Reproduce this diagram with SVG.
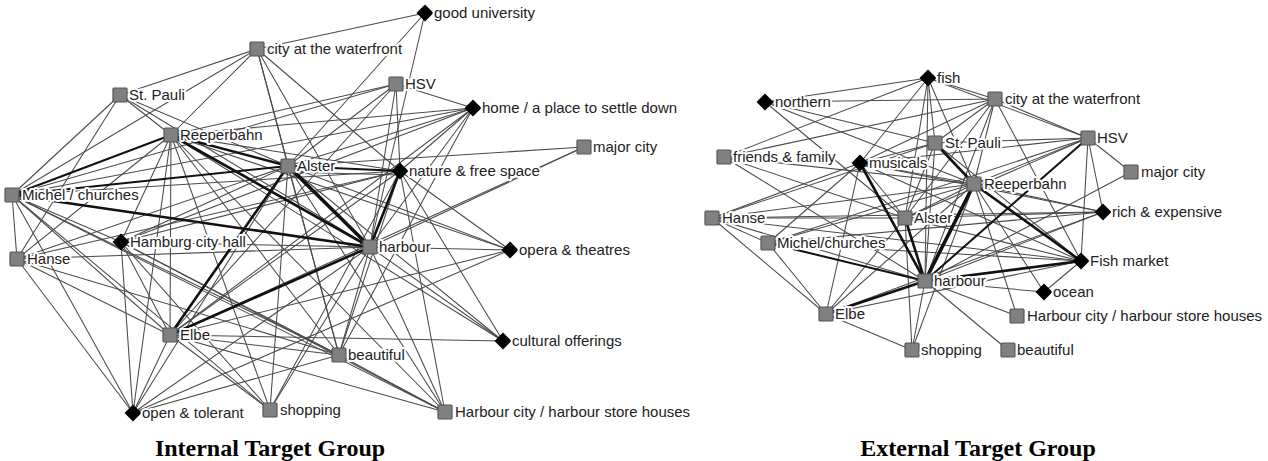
<svg xmlns="http://www.w3.org/2000/svg" xmlns:xlink="http://www.w3.org/1999/xlink" width="1268" height="461" viewBox="0 0 1268 461">
<style>
.e line{stroke:#4a4a4a;stroke-width:1.05;fill:none}
line.t1{stroke:#111;stroke-width:2}
line.t2{stroke:#111;stroke-width:2.6}
line.t3{stroke:#111;stroke-width:3.6}
.sq{fill:#808080;stroke:#555;stroke-width:1.2}
.dm{fill:#000}
text.lb{font-family:"Liberation Sans",Arial,sans-serif;font-size:15px;fill:#222;stroke:#fff;stroke-width:4;paint-order:stroke;stroke-linejoin:round}
text.ti{font-family:"Liberation Serif","Times New Roman",serif;font-size:24px;font-weight:bold;fill:#000;text-anchor:middle}
</style>
<defs>
<rect id="s" x="-7" y="-7" width="14" height="14" rx="1"/>
<path id="d" d="M0,-8.5 L8.5,0 L0,8.5 L-8.5,0Z"/>
</defs>
<rect width="1268" height="461" fill="#fff"/>
<g id="connectors-internal" class="e">
<line x1="425" y1="13" x2="257" y2="49"/><line x1="425" y1="13" x2="288" y2="166"/><line x1="425" y1="13" x2="370" y2="247"/>
<line x1="257" y1="49" x2="120" y2="95"/><line x1="257" y1="49" x2="171" y2="135"/><line x1="257" y1="49" x2="288" y2="166"/><line x1="257" y1="49" x2="12" y2="195"/><line x1="257" y1="49" x2="400" y2="171"/><line x1="257" y1="49" x2="370" y2="247"/><line x1="257" y1="49" x2="339" y2="355"/>
<line x1="396" y1="84" x2="171" y2="135"/><line x1="396" y1="84" x2="12" y2="195"/><line x1="396" y1="84" x2="288" y2="166"/><line x1="396" y1="84" x2="370" y2="247"/><line x1="396" y1="84" x2="170" y2="335"/><line x1="396" y1="84" x2="473" y2="108"/><line x1="396" y1="84" x2="400" y2="171"/>
<line x1="120" y1="95" x2="171" y2="135"/><line x1="120" y1="95" x2="288" y2="166"/><line x1="120" y1="95" x2="12" y2="195"/><line x1="120" y1="95" x2="370" y2="247"/><line x1="120" y1="95" x2="17" y2="259"/>
<line x1="473" y1="108" x2="171" y2="135"/><line x1="473" y1="108" x2="288" y2="166"/><line x1="473" y1="108" x2="12" y2="195"/><line x1="473" y1="108" x2="400" y2="171"/><line x1="473" y1="108" x2="370" y2="247"/><line x1="473" y1="108" x2="170" y2="335"/><line x1="473" y1="108" x2="339" y2="355"/><line x1="473" y1="108" x2="121" y2="242"/>
<line x1="584" y1="147" x2="288" y2="166"/><line x1="584" y1="147" x2="370" y2="247"/><line x1="584" y1="147" x2="170" y2="335"/>
<line x1="171" y1="135" x2="400" y2="171"/><line x1="171" y1="135" x2="170" y2="335"/><line x1="171" y1="135" x2="339" y2="355"/><line x1="171" y1="135" x2="270" y2="410"/><line x1="171" y1="135" x2="133" y2="413"/><line x1="171" y1="135" x2="445" y2="412"/><line x1="171" y1="135" x2="121" y2="242"/><line x1="171" y1="135" x2="17" y2="259"/><line x1="171" y1="135" x2="510" y2="250"/><line x1="171" y1="135" x2="503" y2="341"/>
<line x1="288" y1="166" x2="121" y2="242"/><line x1="288" y1="166" x2="339" y2="355"/><line x1="288" y1="166" x2="270" y2="410"/><line x1="288" y1="166" x2="445" y2="412"/><line x1="288" y1="166" x2="510" y2="250"/><line x1="288" y1="166" x2="503" y2="341"/><line x1="288" y1="166" x2="17" y2="259"/><line x1="288" y1="166" x2="133" y2="413"/><line x1="288" y1="172" x2="400" y2="175"/>
<line x1="400" y1="171" x2="170" y2="335"/><line x1="400" y1="171" x2="339" y2="355"/><line x1="400" y1="171" x2="12" y2="195"/><line x1="400" y1="171" x2="510" y2="250"/><line x1="400" y1="171" x2="503" y2="341"/><line x1="400" y1="171" x2="445" y2="412"/><line x1="400" y1="171" x2="270" y2="410"/><line x1="400" y1="171" x2="121" y2="242"/><line x1="400" y1="171" x2="17" y2="259"/>
<line x1="12" y1="195" x2="121" y2="242"/><line x1="12" y1="195" x2="17" y2="259"/><line x1="12" y1="195" x2="170" y2="335"/><line x1="12" y1="195" x2="133" y2="413"/><line x1="12" y1="195" x2="339" y2="355"/><line x1="12" y1="195" x2="270" y2="410"/><line x1="12" y1="195" x2="445" y2="412"/>
<line x1="121" y1="242" x2="170" y2="335"/><line x1="121" y1="242" x2="339" y2="355"/><line x1="121" y1="242" x2="270" y2="410"/><line x1="121" y1="242" x2="445" y2="412"/><line x1="121" y1="242" x2="133" y2="413"/><line x1="121" y1="242" x2="370" y2="247"/>
<line x1="17" y1="259" x2="370" y2="247"/><line x1="17" y1="259" x2="170" y2="335"/><line x1="17" y1="259" x2="133" y2="413"/><line x1="17" y1="259" x2="339" y2="355"/>
<line x1="370" y1="247" x2="510" y2="250"/><line x1="370" y1="247" x2="503" y2="341"/><line x1="370" y1="247" x2="445" y2="412"/><line x1="370" y1="247" x2="339" y2="355"/><line x1="370" y1="247" x2="270" y2="410"/><line x1="370" y1="247" x2="133" y2="413"/>
<line x1="170" y1="335" x2="339" y2="355"/><line x1="170" y1="335" x2="503" y2="341"/><line x1="170" y1="335" x2="445" y2="412"/><line x1="170" y1="335" x2="270" y2="410"/><line x1="170" y1="335" x2="133" y2="413"/><line x1="170" y1="335" x2="510" y2="250"/>
<line x1="339" y1="355" x2="445" y2="412"/><line x1="339" y1="355" x2="133" y2="413"/><line x1="133" y1="413" x2="510" y2="250"/>
<line class="t2" x1="171" y1="135" x2="288" y2="166"/><line class="t2" x1="171" y1="135" x2="370" y2="247"/><line class="t3" x1="288" y1="166" x2="370" y2="247"/>
<line class="t1" x1="12" y1="195" x2="171" y2="135"/><line class="t1" x1="12" y1="195" x2="288" y2="166"/><line class="t2" x1="12" y1="195" x2="370" y2="247"/>
<line class="t1" x1="288" y1="166" x2="400" y2="171"/><line class="t2" x1="288" y1="166" x2="170" y2="335"/><line class="t2" x1="170" y1="335" x2="370" y2="247"/><line class="t2" x1="400" y1="171" x2="370" y2="247"/>
</g>
<g id="connectors-external" class="e">
<line x1="928" y1="78" x2="765" y2="102"/><line x1="928" y1="78" x2="995" y2="99"/><line x1="928" y1="78" x2="935" y2="143"/><line x1="928" y1="78" x2="974" y2="184"/><line x1="928" y1="78" x2="925" y2="281"/><line x1="928" y1="78" x2="860" y2="163"/><line x1="928" y1="78" x2="724" y2="157"/><line x1="928" y1="78" x2="1088" y2="138"/><line x1="928" y1="78" x2="905" y2="218"/>
<line x1="765" y1="102" x2="995" y2="99"/><line x1="765" y1="102" x2="935" y2="143"/><line x1="765" y1="102" x2="974" y2="184"/><line x1="765" y1="102" x2="905" y2="218"/>
<line x1="995" y1="99" x2="935" y2="143"/><line x1="995" y1="99" x2="974" y2="184"/><line x1="995" y1="99" x2="1088" y2="138"/><line x1="995" y1="99" x2="925" y2="281"/><line x1="995" y1="99" x2="860" y2="163"/><line x1="995" y1="99" x2="1081" y2="261"/><line x1="995" y1="99" x2="724" y2="157"/><line x1="995" y1="99" x2="905" y2="218"/>
<line x1="1088" y1="138" x2="935" y2="143"/><line x1="1088" y1="138" x2="974" y2="184"/><line x1="1088" y1="138" x2="860" y2="163"/><line x1="1088" y1="138" x2="1131" y2="172"/><line x1="1088" y1="138" x2="1103" y2="212"/><line x1="1088" y1="138" x2="1081" y2="261"/><line x1="1088" y1="138" x2="905" y2="218"/><line x1="1088" y1="138" x2="768" y2="243"/>
<line x1="935" y1="143" x2="925" y2="281"/><line x1="935" y1="143" x2="905" y2="218"/><line x1="935" y1="143" x2="860" y2="163"/><line x1="935" y1="143" x2="1081" y2="261"/><line x1="935" y1="143" x2="712" y2="218"/>
<line x1="724" y1="157" x2="925" y2="281"/><line x1="724" y1="157" x2="905" y2="218"/><line x1="724" y1="157" x2="974" y2="184"/>
<line x1="860" y1="163" x2="974" y2="184"/><line x1="860" y1="163" x2="905" y2="218"/><line x1="860" y1="163" x2="1081" y2="261"/><line x1="860" y1="163" x2="712" y2="218"/><line x1="860" y1="163" x2="826" y2="314"/><line x1="860" y1="163" x2="768" y2="243"/><line x1="860" y1="163" x2="1103" y2="212"/>
<line x1="1131" y1="172" x2="925" y2="281"/>
<line x1="974" y1="184" x2="905" y2="218"/><line x1="974" y1="184" x2="712" y2="218"/><line x1="974" y1="184" x2="768" y2="243"/><line x1="974" y1="184" x2="826" y2="314"/><line x1="974" y1="184" x2="1103" y2="212"/><line x1="974" y1="184" x2="1017" y2="316"/><line x1="974" y1="184" x2="912" y2="350"/><line x1="974" y1="184" x2="1044" y2="292"/>
<line x1="1103" y1="212" x2="925" y2="281"/><line x1="1103" y1="212" x2="905" y2="218"/><line x1="1103" y1="212" x2="768" y2="243"/><line x1="1103" y1="212" x2="712" y2="218"/><line x1="1103" y1="212" x2="826" y2="314"/>
<line x1="712" y1="218" x2="905" y2="218"/><line x1="712" y1="218" x2="925" y2="281"/><line x1="712" y1="218" x2="826" y2="314"/><line x1="712" y1="218" x2="768" y2="243"/><line x1="712" y1="218" x2="1081" y2="261"/>
<line x1="905" y1="218" x2="1081" y2="261"/><line x1="905" y1="218" x2="912" y2="350"/><line x1="905" y1="218" x2="826" y2="314"/>
<line x1="768" y1="243" x2="826" y2="314"/><line x1="768" y1="243" x2="1081" y2="261"/>
<line x1="1081" y1="261" x2="826" y2="314"/><line x1="1081" y1="261" x2="1044" y2="292"/>
<line x1="925" y1="281" x2="1044" y2="292"/><line x1="925" y1="281" x2="1017" y2="316"/><line x1="925" y1="281" x2="912" y2="350"/><line x1="925" y1="281" x2="1008" y2="350"/><line x1="826" y1="314" x2="912" y2="350"/>
<line class="t2" x1="860" y1="163" x2="925" y2="281"/><line class="t3" x1="974" y1="184" x2="925" y2="281"/><line class="t2" x1="905" y1="218" x2="925" y2="281"/>
<line class="t2" x1="935" y1="143" x2="974" y2="184"/><line class="t1" x1="1088" y1="138" x2="925" y2="281"/><line class="t2" x1="974" y1="184" x2="1081" y2="261"/>
<line class="t2" x1="925" y1="281" x2="1081" y2="261"/><line class="t2" x1="826" y1="314" x2="925" y2="281"/><line class="t1" x1="768" y1="243" x2="925" y2="281"/>
</g>
<g id="internal-nodes">
<g id="i-gooduniversity"><use href="#d" x="425" y="13" class="dm"/><text class="lb" x="434" y="18">good university</text></g>
<g id="i-waterfront"><use href="#s" x="257" y="49" class="sq"/><text class="lb" x="267" y="54">city at the waterfront</text></g>
<g id="i-hsv"><use href="#s" x="396" y="84" class="sq"/><text class="lb" x="405" y="89">HSV</text></g>
<g id="i-stpauli"><use href="#s" x="120" y="95" class="sq"/><text class="lb" x="129" y="100">St. Pauli</text></g>
<g id="i-home"><use href="#d" x="473" y="108" class="dm"/><text class="lb" x="482" y="113">home / a place to settle down</text></g>
<g id="i-reeperbahn"><use href="#s" x="171" y="135" class="sq"/><text class="lb" x="180" y="140">Reeperbahn</text></g>
<g id="i-majorcity"><use href="#s" x="584" y="147" class="sq"/><text class="lb" x="593" y="152">major city</text></g>
<g id="i-alster"><use href="#s" x="288" y="166" class="sq"/><text class="lb" x="297" y="171">Alster</text></g>
<g id="i-nature"><use href="#d" x="400" y="171" class="dm"/><text class="lb" x="409" y="176">nature &amp; free space</text></g>
<g id="i-michel"><use href="#s" x="12" y="195" class="sq"/><text class="lb" x="22" y="200">Michel / churches</text></g>
<g id="i-cityhall"><use href="#d" x="121" y="242" class="dm"/><text class="lb" x="130" y="247">Hamburg city hall</text></g>
<g id="i-hanse"><use href="#s" x="17" y="259" class="sq"/><text class="lb" x="27" y="264">Hanse</text></g>
<g id="i-harbour"><use href="#s" x="370" y="247" class="sq"/><text class="lb" x="379" y="252">harbour</text></g>
<g id="i-opera"><use href="#d" x="510" y="250" class="dm"/><text class="lb" x="519" y="255">opera &amp; theatres</text></g>
<g id="i-elbe"><use href="#s" x="170" y="335" class="sq"/><text class="lb" x="180" y="340">Elbe</text></g>
<g id="i-beautiful"><use href="#s" x="339" y="355" class="sq"/><text class="lb" x="348" y="360">beautiful</text></g>
<g id="i-cultural"><use href="#d" x="503" y="341" class="dm"/><text class="lb" x="512" y="346">cultural offerings</text></g>
<g id="i-open"><use href="#d" x="133" y="413" class="dm"/><text class="lb" x="142" y="418">open &amp; tolerant</text></g>
<g id="i-shopping"><use href="#s" x="270" y="410" class="sq"/><text class="lb" x="280" y="415">shopping</text></g>
<g id="i-harbourcity"><use href="#s" x="445" y="412" class="sq"/><text class="lb" x="455" y="417">Harbour city / harbour store houses</text></g>
</g>
<g id="external-nodes">
<g id="e-fish"><use href="#d" x="928" y="78" class="dm"/><text class="lb" x="937" y="83">fish</text></g>
<g id="e-northern"><use href="#d" x="765" y="102" class="dm"/><text class="lb" x="775" y="107">northern</text></g>
<g id="e-waterfront"><use href="#s" x="995" y="99" class="sq"/><text class="lb" x="1005" y="104">city at the waterfront</text></g>
<g id="e-hsv"><use href="#s" x="1088" y="138" class="sq"/><text class="lb" x="1097" y="143">HSV</text></g>
<g id="e-stpauli"><use href="#s" x="935" y="143" class="sq"/><text class="lb" x="945" y="148">St. Pauli</text></g>
<g id="e-friends"><use href="#s" x="724" y="157" class="sq"/><text class="lb" x="733" y="162">friends &amp; family</text></g>
<g id="e-musicals"><use href="#d" x="860" y="163" class="dm"/><text class="lb" x="869" y="168">musicals</text></g>
<g id="e-majorcity"><use href="#s" x="1131" y="172" class="sq"/><text class="lb" x="1141" y="177">major city</text></g>
<g id="e-reeperbahn"><use href="#s" x="974" y="184" class="sq"/><text class="lb" x="984" y="189">Reeperbahn</text></g>
<g id="e-rich"><use href="#d" x="1103" y="212" class="dm"/><text class="lb" x="1112" y="217">rich &amp; expensive</text></g>
<g id="e-hanse"><use href="#s" x="712" y="218" class="sq"/><text class="lb" x="722" y="223">Hanse</text></g>
<g id="e-alster"><use href="#s" x="905" y="218" class="sq"/><text class="lb" x="914" y="223">Alster</text></g>
<g id="e-michel"><use href="#s" x="768" y="243" class="sq"/><text class="lb" x="777" y="248">Michel/churches</text></g>
<g id="e-fishmarket"><use href="#d" x="1081" y="261" class="dm"/><text class="lb" x="1090" y="266">Fish market</text></g>
<g id="e-harbour"><use href="#s" x="925" y="281" class="sq"/><text class="lb" x="934" y="286">harbour</text></g>
<g id="e-ocean"><use href="#d" x="1044" y="292" class="dm"/><text class="lb" x="1053" y="297">ocean</text></g>
<g id="e-elbe"><use href="#s" x="826" y="314" class="sq"/><text class="lb" x="835" y="319">Elbe</text></g>
<g id="e-harbourcity"><use href="#s" x="1017" y="316" class="sq"/><text class="lb" x="1027" y="321">Harbour city / harbour store houses</text></g>
<g id="e-shopping"><use href="#s" x="912" y="350" class="sq"/><text class="lb" x="921" y="355">shopping</text></g>
<g id="e-beautiful"><use href="#s" x="1008" y="350" class="sq"/><text class="lb" x="1017" y="355">beautiful</text></g>
</g>
<g id="titles">
<text class="ti" x="270" y="456">Internal Target Group</text>
<text class="ti" x="978" y="456">External Target Group</text>
</g>
</svg>
